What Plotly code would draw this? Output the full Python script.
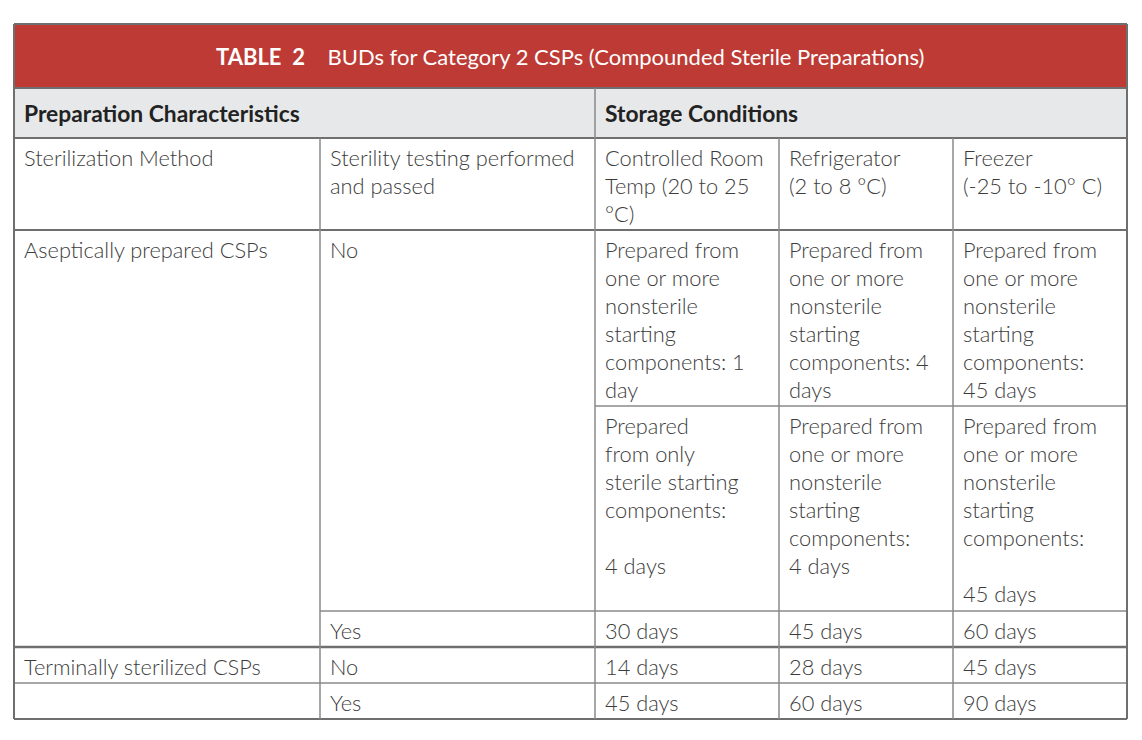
import plotly.graph_objects as go

# ---------------- data ----------------
title_label = "TABLE  2"
title_text = "BUDs for Category 2 CSPs (Compounded Sterile Preparations)"
group_headers = ["Preparation Characteristics", "Storage Conditions"]
column_headers = [
    "Sterilization Method",
    "Sterility testing performed\nand passed",
    "Controlled Room\nTemp (20 to 25\n°C)",
    "Refrigerator\n(2 to 8 °C)",
    "Freezer\n(-25 to -10° C)",
]
methods = ["Aseptically prepared CSPs", "Terminally sterilized CSPs"]
sterility_tested = ["No", "Yes", "No", "Yes"]
room_temp = [
    "Prepared from\none or more\nnonsterile\nstarting\ncomponents: 1\nday",
    "Prepared\nfrom only\nsterile starting\ncomponents:\n\n4 days",
    "30 days", "14 days", "45 days",
]
refrigerator = [
    "Prepared from\none or more\nnonsterile\nstarting\ncomponents: 4\ndays",
    "Prepared from\none or more\nnonsterile\nstarting\ncomponents:\n4 days",
    "45 days", "28 days", "60 days",
]
freezer = [
    "Prepared from\none or more\nnonsterile\nstarting\ncomponents:\n45 days",
    "Prepared from\none or more\nnonsterile\nstarting\ncomponents:\n\n45 days",
    "60 days", "45 days", "90 days",
]

# ---------------- layout geometry ----------------
PAGE_MARGIN = 8  # default body margin of the html page
W, H = 1142 - 2 * PAGE_MARGIN, 740 - 2 * PAGE_MARGIN
col_x = [14, 320, 595, 779, 953, 1127]
row_y = [24, 88, 138, 230, 406, 611, 647, 683, 719]
RED = "#BD3B34"
HEAD_BG = "#E7E8EA"
LINE = "#8a8a8a"
OUTER = "#6f6f6f"
TXT = "#3c3c3c"
FONT = "Lato"
FS = 21.8
HFS = 22.8
TFS = 22
LH = 28
PAD = 8

# cells: (row index top, row index bottom, col index left, text)
cells = []
for c, t in enumerate(column_headers):
    cells.append((2, 3, c, t))
cells.append((3, 6, 0, methods[0]))
cells.append((3, 5, 1, sterility_tested[0]))
cells.append((5, 6, 1, sterility_tested[1]))
cells.append((6, 7, 0, methods[1]))
cells.append((6, 7, 1, sterility_tested[2]))
cells.append((7, 8, 1, sterility_tested[3]))
row_tops = [3, 4, 5, 6, 7]
for vals, c in ((room_temp, 2), (refrigerator, 3), (freezer, 4)):
    for r, v in zip(row_tops, vals):
        cells.append((r, r + 1, c, v))

shapes = []
shapes.append(dict(type="rect", x0=col_x[0], x1=col_x[-1], y0=row_y[0], y1=row_y[1],
                   fillcolor=RED, line=dict(width=0), layer="below"))
shapes.append(dict(type="rect", x0=col_x[0], x1=col_x[-1], y0=row_y[1], y1=row_y[2],
                   fillcolor=HEAD_BG, line=dict(width=0), layer="below"))


def hline(y, x0, x1, w=1.5, color=LINE):
    shapes.append(dict(type="line", x0=x0, x1=x1, y0=y, y1=y, line=dict(color=color, width=w)))


def vline(x, y0, y1, w=1.5, color=LINE):
    shapes.append(dict(type="line", x0=x, x1=x, y0=y0, y1=y1, line=dict(color=color, width=w)))


hline(row_y[0], col_x[0], col_x[-1], 2, OUTER)
hline(row_y[1], col_x[0], col_x[-1], 2, OUTER)
hline(row_y[2], col_x[0], col_x[-1], 2, OUTER)
hline(row_y[3], col_x[0], col_x[-1], 2, OUTER)
hline(row_y[4], col_x[2], col_x[-1])
hline(row_y[5], col_x[1], col_x[-1])
hline(row_y[6], col_x[0], col_x[-1], 2.5, OUTER)
hline(row_y[7], col_x[0], col_x[-1])
hline(row_y[8], col_x[0], col_x[-1], 2, OUTER)
vline(col_x[0], row_y[0], row_y[8], 2, OUTER)
vline(col_x[-1], row_y[0], row_y[8], 2, OUTER)
vline(col_x[2], row_y[1], row_y[8])
for cx in (col_x[1], col_x[3], col_x[4]):
    vline(cx, row_y[2], row_y[8])

annotations = []
annotations.append(dict(
    x=570, y=56, xref="x", yref="y", showarrow=False, xanchor="center", yanchor="middle",
    text=f"<b>{title_label}</b>&nbsp;&nbsp;&nbsp;&nbsp;{title_text}",
    font=dict(family=FONT, size=TFS, color="white")))
for gx, g in zip((col_x[0], col_x[2]), group_headers):
    annotations.append(dict(
        x=gx + PAD, y=113, xref="x", yref="y", showarrow=False, xanchor="left", yanchor="middle",
        text=f"<b>{g}</b>", font=dict(family=FONT, size=HFS, color="#222222")))

for rt, rb, c, text in cells:
    for i, line in enumerate(text.split("\n")):
        if not line:
            continue
        annotations.append(dict(
            x=col_x[c] + PAD, y=row_y[rt] + 19 + i * LH, xref="x", yref="y", showarrow=False,
            xanchor="left", yanchor="middle", text=line,
            font=dict(family=FONT, size=FS, color=TXT, weight=300)))

fig = go.Figure()
fig.add_trace(go.Scatter(x=[PAGE_MARGIN, PAGE_MARGIN + W], y=[PAGE_MARGIN, PAGE_MARGIN + H],
                         mode="markers", marker=dict(opacity=0),
                         hoverinfo="skip", showlegend=False))
fig.update_layout(
    width=W, height=H, margin=dict(l=0, r=0, t=0, b=0),
    paper_bgcolor="white", plot_bgcolor="white",
    xaxis=dict(range=[PAGE_MARGIN, PAGE_MARGIN + W], visible=False, fixedrange=True),
    yaxis=dict(range=[PAGE_MARGIN + H, PAGE_MARGIN], visible=False, fixedrange=True),
    shapes=shapes, annotations=annotations,
)
fig.write_html("out.html")
